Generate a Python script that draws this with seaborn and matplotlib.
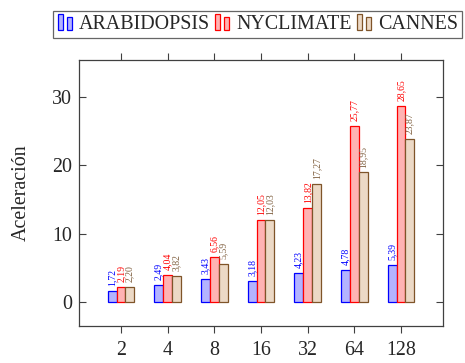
import matplotlib
matplotlib.use("Agg")
import matplotlib.pyplot as plt
from matplotlib.legend_handler import HandlerBase
from matplotlib.patches import Rectangle
import seaborn as sns
import pandas as pd

categories = ["2", "4", "8", "16", "32", "64", "128"]
series_names = ["ARABIDOPSIS", "NYCLIMATE", "CANNES"]
arabidopsis = [1.72, 2.49, 3.43, 3.18, 4.23, 4.78, 5.39]
nyclimate = [2.19, 4.04, 6.56, 12.05, 13.82, 25.77, 28.65]
cannes = [2.20, 3.82, 5.59, 12.03, 17.27, 18.95, 23.87]
yticks = [0, 10, 20, 30]

fills = ["#B3B3FF", "#FFB3B3", "#ECD9C6"]
edges = ["#0000FF", "#FF0000", "#7F5429"]
label_colors = ["#0000FF", "#FF0000", "#806040"]

df = pd.DataFrame({
    "cat": categories * 3,
    "serie": [s for s in series_names for _ in categories],
    "val": arabidopsis + nyclimate + cannes,
})

sns.set_theme(style="ticks")
plt.rcParams["font.family"] = ["Liberation Serif", "DejaVu Serif"]

fig = plt.figure(figsize=(4.65, 3.63), dpi=100)
ax = fig.add_axes([79 / 465, 1 - 326 / 363, (443 - 79) / 465, (326 - 60) / 363])

sns.barplot(data=df, x="cat", y="val", hue="serie", order=categories,
            hue_order=series_names, palette=fills, width=0.57, gap=0,
            saturation=1, ax=ax, legend=False, errorbar=None)

for cont, ec, lc in zip(ax.containers, edges, label_colors):
    for bar in cont:
        bar.set_edgecolor(ec)
        bar.set_linewidth(0.9)
    labels = [f"{b.get_height():.2f}".replace(".", ",") for b in cont]
    ax.bar_label(cont, labels=labels, rotation=90, padding=3.5, fontsize=7,
                 color=lc)

ax.set_xlim(-0.9, 6.9)
ax.set_ylim(-3.46, 35.36)
ax.set_yticks(yticks)
ax.set_xlabel("")
ax.set_ylabel("Aceleración", fontsize=14.4, labelpad=15)

for s in ax.spines.values():
    s.set_color("#404040")
    s.set_linewidth(0.9)
    s.set_visible(True)

ax.tick_params(axis="y", which="both", direction="in", length=5, width=0.8,
               color="#404040", left=True, right=True, labelsize=14.4, pad=5)
ax.tick_params(axis="x", which="both", direction="out", length=5, width=0.8,
               color="#404040", bottom=True, top=True, labelsize=14.4, pad=6)


class TwoBarHandler(HandlerBase):
    def __init__(self, fc, ec):
        super().__init__()
        self.fc = fc
        self.ec = ec

    def create_artists(self, legend, orig_handle, xdescent, ydescent, width,
                       height, fontsize, trans):
        bw = width * 0.28
        r1 = Rectangle((xdescent + width * 0.05, -ydescent - height * 0.05),
                       bw, height * 1.1, facecolor=self.fc, edgecolor=self.ec,
                       linewidth=0.9, transform=trans)
        r2 = Rectangle((xdescent + width * 0.55, -ydescent - height * 0.05),
                       bw, height * 0.9, facecolor=self.fc, edgecolor=self.ec,
                       linewidth=0.9, transform=trans)
        return [r1, r2]


handles = [Rectangle((0, 0), 1, 1) for _ in series_names]
handler_map = {h: TwoBarHandler(f, e) for h, f, e in zip(handles, fills, edges)}
leg = ax.legend(handles, series_names, handler_map=handler_map, ncol=3,
                loc="lower center", bbox_to_anchor=(0.49, 1.083),
                frameon=True, fancybox=False, edgecolor="#404040",
                fontsize=14.4, handlelength=0.9, handletextpad=0.2,
                columnspacing=0.2, borderpad=0.2, borderaxespad=0)
leg.get_frame().set_linewidth(0.9)

fig.savefig("out.png", dpi=100)
